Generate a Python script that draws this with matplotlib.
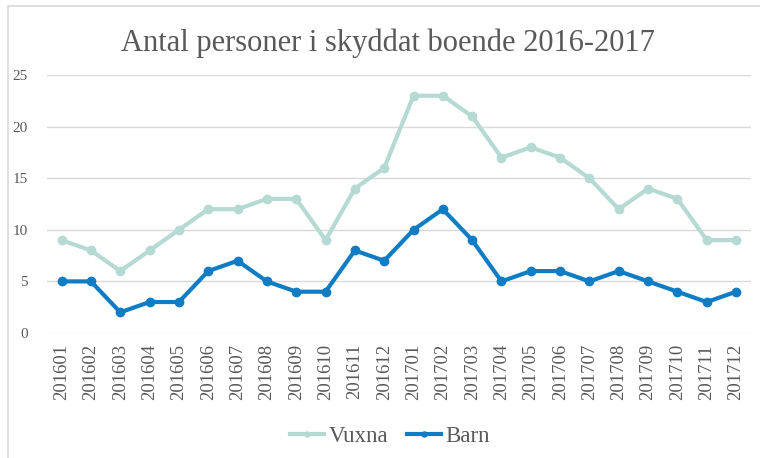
import matplotlib.pyplot as plt
import matplotlib
from matplotlib.patches import Rectangle

months = ['201601', '201602', '201603', '201604', '201605', '201606', '201607', '201608',
          '201609', '201610', '201611', '201612', '201701', '201702', '201703', '201704',
          '201705', '201706', '201707', '201708', '201709', '201710', '201711', '201712']
vuxna = [9, 8, 6, 8, 10, 12, 12, 13, 13, 9, 14, 16, 23, 23, 21, 17, 18, 17, 15, 12, 14, 13, 9, 9]
barn = [5, 5, 2, 3, 3, 6, 7, 5, 4, 4, 8, 7, 10, 12, 9, 5, 6, 6, 5, 6, 5, 4, 3, 4]

matplotlib.rc('font', family='Liberation Serif')
text_color = '#595959'

fig = plt.figure(figsize=(7.6, 4.58), dpi=100)
ax = fig.add_axes([0.0618, 0.273, 0.926, 0.563])

# light frame around the whole chart
fig.patches.append(Rectangle((8 / 760, -0.01), 1.0, 1 - 6 / 458 + 0.01, transform=fig.transFigure,
                             fill=False, edgecolor='#d9d9d9', linewidth=1.2))

x = list(range(len(months)))
ax.plot(x, vuxna, '-o', color='#b4dad3', linewidth=3, markersize=6, label='Vuxna')
ax.plot(x, barn, '-o', color='#0f7cc4', linewidth=3, markersize=6, label='Barn')

ax.set_xlim(-0.5, len(months) - 0.5)
ax.set_ylim(0, 25)
ax.set_yticks([0, 5, 10, 15, 20, 25])
ax.set_xticks(x)
ax.set_xticklabels(months, rotation=90)
ax.grid(axis='y', color='#d9d9d9', linewidth=1)
ax.set_axisbelow(True)
for s in ax.spines.values():
    s.set_visible(False)
ax.tick_params(length=0, colors=text_color)
ax.tick_params(axis='y', pad=14, labelsize=11)
ax.tick_params(axis='x', pad=8, labelsize=13.5)

fig.text(0.511, 0.905, 'Antal personer i skyddat boende 2016-2017', ha='center', va='center',
         fontsize=22, color=text_color)
fig.legend(loc='center', bbox_to_anchor=(0.513, 0.047), ncol=2, frameon=False, fontsize=16.5,
           labelcolor=text_color, handlelength=1.5, handletextpad=0.2, columnspacing=0.8,
           markerscale=0.6)

fig.savefig('out.png', dpi=100)
